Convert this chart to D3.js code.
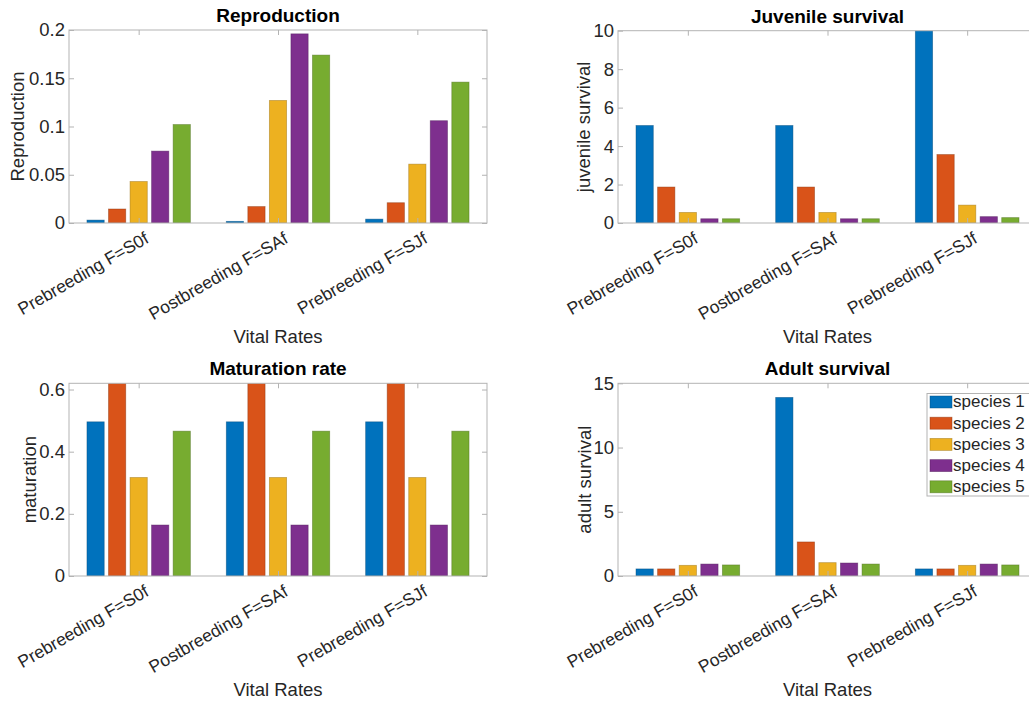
<!DOCTYPE html>
<html>
<head>
<meta charset="utf-8">
<script src="https://cdn.jsdelivr.net/npm/d3@7"></script>
<style>
  body { margin: 0; background: #fff; }
  svg { display: block; font-family: "Liberation Sans", Arial, Helvetica, sans-serif; }
</style>
</head>
<body>
<div id="chart"></div>
<script>
var svgWidth = 1029;
var svgHeight = 704;

// categories and series
var categories = ["Prebreeding F=S0f", "Postbreeding F=SAf", "Prebreeding F=SJf"];
var speciesNames = ["species 1", "species 2", "species 3", "species 4", "species 5"];
var colors = ["#0072BD", "#D95319", "#EDB120", "#7E2F8E", "#77AC30"];

// values per category, one entry per species
var reproduction = [
  [0.003, 0.0145, 0.043, 0.0745, 0.102],
  [0.0017, 0.017, 0.127, 0.196, 0.174],
  [0.004, 0.021, 0.061, 0.106, 0.146]
];
var juvenileSurvival = [
  [5.07, 1.87, 0.55, 0.22, 0.22],
  [5.07, 1.87, 0.55, 0.22, 0.22],
  [10.2, 3.56, 0.93, 0.33, 0.28]
];
var maturation = [
  [0.496, 0.7, 0.317, 0.164, 0.466],
  [0.496, 0.7, 0.317, 0.164, 0.466],
  [0.496, 0.7, 0.317, 0.164, 0.466]
];
var adultSurvival = [
  [0.55, 0.55, 0.83, 0.93, 0.86],
  [13.9, 2.65, 1.04, 1.01, 0.93],
  [0.55, 0.55, 0.83, 0.93, 0.86]
];

// tick labels
var reproTicks = [0, 0.05, 0.1, 0.15, 0.2];
var juvTicks = [0, 2, 4, 6, 8, 10];
var matTicks = [0, 0.2, 0.4, 0.6];
var adultTicks = [0, 5, 10, 15];

var svg = d3.select("#chart")
  .append("svg")
  .attr("width", svgWidth)
  .attr("height", svgHeight);

var axisGray = "#b3b3b3";
var textColor = "#262626";
var fs = "18.5px";

function drawPanel(opt) {
  var w = opt.right - opt.left;
  var h = opt.bottom - opt.top;
  var g = svg.append("g").attr("transform", `translate(${opt.left}, ${opt.top})`);

  var x = d3.scaleLinear().domain([0.5, 3.5]).range([0, w]);
  var y = d3.scaleLinear().domain([0, opt.ymax]).range([h, 0]);

  var clipId = "clip" + opt.id;
  g.append("clipPath").attr("id", clipId)
    .append("rect").attr("x", 0).attr("y", 0).attr("width", w).attr("height", h);

  // grouped bars, matlab style
  var slot = 0.1546;
  var barW = slot * 0.8;
  var bars = g.append("g").attr("clip-path", `url(#${clipId})`);
  opt.data.forEach(function(row, ci) {
    row.forEach(function(v, si) {
      var cx = (ci + 1) + (si - 2) * slot;
      bars.append("rect")
        .attr("x", x(cx - barW / 2))
        .attr("width", x(cx + barW / 2) - x(cx - barW / 2))
        .attr("y", y(v))
        .attr("height", y(0) - y(v))
        .attr("fill", colors[si])
        .attr("stroke", d3.color(colors[si]).darker(1.2))
        .attr("stroke-opacity", 0.55)
        .attr("stroke-width", 0.8);
    });
  });

  // box
  g.append("rect")
    .attr("x", 0).attr("y", 0).attr("width", w).attr("height", h)
    .attr("fill", "none").attr("stroke", axisGray).attr("stroke-width", 1);

  // y axis left and right
  var leftAxis = d3.axisLeft(y).tickValues(opt.ticks).tickSize(-5).tickPadding(4).tickFormat(d => d);
  var ya = g.append("g").call(leftAxis);
  ya.select(".domain").remove();
  ya.selectAll("line").attr("stroke", axisGray);
  ya.selectAll("text").attr("fill", textColor).attr("font-size", fs).attr("font-family", null);

  var ticksR = g.append("g").attr("transform", `translate(${w},0)`)
    .call(d3.axisRight(y).tickValues(opt.ticks).tickSize(-5).tickFormat(""));
  ticksR.select(".domain").remove();
  ticksR.selectAll("line").attr("stroke", axisGray);

  // x axis bottom and top
  var bottomAxis = d3.axisBottom(x).tickValues([1, 2, 3]).tickSize(-5).tickFormat("");
  var xa = g.append("g").attr("transform", `translate(0,${h})`).call(bottomAxis);
  xa.select(".domain").remove();
  xa.selectAll("line").attr("stroke", axisGray);
  var xt = g.append("g").call(d3.axisTop(x).tickValues([1, 2, 3]).tickSize(-5).tickFormat(""));
  xt.select(".domain").remove();
  xt.selectAll("line").attr("stroke", axisGray);

  // rotated category labels
  categories.forEach(function(c, i) {
    g.append("text")
      .attr("transform", `translate(${x(i + 1) + 5}, ${h + 8}) rotate(-30)`)
      .attr("text-anchor", "end")
      .attr("dy", "0.72em")
      .attr("font-size", "17.5px")
      .attr("fill", textColor)
      .text(c);
  });

  // title
  g.append("text")
    .attr("x", w / 2).attr("y", -8)
    .attr("text-anchor", "middle")
    .attr("font-size", "19px")
    .attr("font-weight", "bold")
    .attr("fill", "#000")
    .text(opt.title);

  // axis labels
  g.append("text")
    .attr("x", w / 2)
    .attr("y", h + 120)
    .attr("text-anchor", "middle")
    .attr("font-size", fs)
    .attr("fill", textColor)
    .text("Vital Rates");

  g.append("text")
    .attr("transform", `translate(${opt.yLabelX}, ${h / 2}) rotate(-90)`)
    .attr("text-anchor", "middle")
    .attr("font-size", fs)
    .attr("fill", textColor)
    .text(opt.ylabel);

  return g;
}

drawPanel({ id: 1, left: 69, right: 487, top: 30, bottom: 223, ymax: 0.2, ticks: reproTicks,
  data: reproduction, title: "Reproduction", ylabel: "Reproduction", yLabelX: -45 });
drawPanel({ id: 2, left: 618, right: 1037, top: 30.7, bottom: 223, ymax: 10, ticks: juvTicks,
  data: juvenileSurvival, title: "Juvenile survival", ylabel: "juvenile survival", yLabelX: -28.5 });
drawPanel({ id: 3, left: 69, right: 487, top: 383.3, bottom: 576, ymax: 0.62, ticks: matTicks,
  data: maturation, title: "Maturation rate", ylabel: "maturation", yLabelX: -33.5 });
drawPanel({ id: 4, left: 618, right: 1037, top: 383.3, bottom: 576, ymax: 15, ticks: adultTicks,
  data: adultSurvival, title: "Adult survival", ylabel: "adult survival", yLabelX: -27 });

// legend
var legend = svg.append("g").attr("transform", "translate(927, 393.5)");
legend.append("rect")
  .attr("x", 0).attr("y", 0).attr("width", 120).attr("height", 102.5)
  .attr("fill", "#fff").attr("stroke", axisGray);
speciesNames.forEach(function(s, i) {
  var row = legend.append("g").attr("transform", `translate(0, ${8 + i * 21.2})`);
  row.append("rect")
    .attr("x", 3).attr("y", -5.5).attr("width", 22).attr("height", 12)
    .attr("fill", colors[i])
    .attr("stroke", d3.color(colors[i]).darker(1.2)).attr("stroke-opacity", 0.55).attr("stroke-width", 0.8);
  row.append("text")
    .attr("x", 26).attr("y", 0).attr("dy", "0.35em")
    .attr("font-size", "17px")
    .attr("fill", textColor)
    .text(s);
});
</script>
</body>
</html>
